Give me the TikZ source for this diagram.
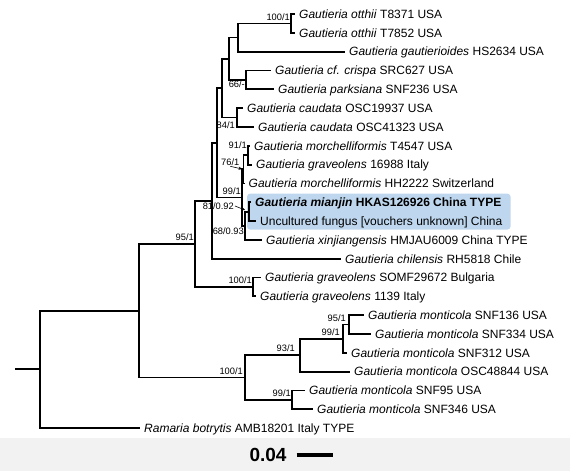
\documentclass[tikz,border=0pt]{standalone}
\usepackage{fontspec}
\setmainfont{Liberation Sans}
\usetikzlibrary{positioning,arrows.meta,fit,backgrounds}
\definecolor{treeBlue}{RGB}{190,215,238}
\definecolor{barGrey}{RGB}{242,242,242}

\begin{document}
\begin{tikzpicture}[
    x=1pt, y=-1pt,
    branch/.style={line width=1.8pt},
    tip label/.style={anchor=west, inner xsep=4pt, inner ysep=0pt, text height=8.6pt, text depth=0pt, font=\fontsize{12}{14}\selectfont},
    boot label/.style={font=\fontsize{9.3}{10}\selectfont, inner sep=1pt},
    tag arrow/.style={-{Stealth[length=4pt,width=3pt]}, line width=0.6pt},
    clade box/.style={rectangle, rounded corners=3pt, fill=treeBlue, inner sep=4pt}
]
  \useasboundingbox (0,0) rectangle (570,471);
  \fill[barGrey] (0,438) rectangle (570,471);

  % branch points
  \coordinate (stub) at (15,369.3);
  \coordinate (nRoot) at (40,369.3);
  \coordinate (nIn) at (139,310.6);
  \coordinate (n95) at (195,243.8);
  \coordinate (nUpD) at (212,200.75);
  \coordinate (nUpC) at (217,142.8);
  \coordinate (nUpB) at (222,88.1);
  \coordinate (nUpA) at (229,58.7);
  \coordinate (nOttG) at (238,37.5);
  \coordinate (nOtt) at (291,23.4);
  \coordinate (nCri) at (246,79.9);
  \coordinate (nCau) at (237,117.5);
  \coordinate (n99) at (242,197.5);
  \coordinate (n76) at (243.5,169.3);
  \coordinate (n91) at (248,155.15);
  \coordinate (n68) at (245,225.7);
  \coordinate (n81) at (249,211.6);
  \coordinate (nGra) at (253,286.9);
  \coordinate (m100) at (245,377.45);
  \coordinate (m93) at (300,355.1);
  \coordinate (m99) at (343,338.65);
  \coordinate (m95) at (349,324.5);
  \coordinate (m99b) at (292,399.8);

  % tips
  \node[tip label] (ott1) at (295,14.0) {\textit{Gautieria otthii} T8371 USA};
  \node[tip label] (ott2) at (295,32.8) {\textit{Gautieria otthii} T7852 USA};
  \node[tip label] (gaut) at (345,51.6) {\textit{Gautieria gautierioides} HS2634 USA};
  \node[tip label] (cris) at (271,70.5) {\textit{Gautieria cf. crispa} SRC627 USA};
  \node[tip label] (park) at (274,89.3) {\textit{Gautieria parksiana} SNF236 USA};
  \node[tip label] (cau1) at (243,108.1) {\textit{Gautieria caudata} OSC19937 USA};
  \node[tip label] (cau2) at (254,126.9) {\textit{Gautieria caudata} OSC41323 USA};
  \node[tip label] (mor1) at (250,145.7) {\textit{Gautieria morchelliformis} T4547 USA};
  \node[tip label] (gra1) at (252,164.6) {\textit{Gautieria graveolens} 16988 Italy};
  \node[tip label] (mor2) at (244.5,183.4) {\textit{Gautieria morchelliformis} HH2222 Switzerland};
  \node[tip label] (mian) at (251,202.2) {\textbf{\textit{Gautieria mianjin} HKAS126926 China TYPE}};
  \node[tip label] (uncu) at (256,221.0) {Uncultured fungus [vouchers unknown] China};
  \node[tip label] (xinj) at (262,239.8) {\textit{Gautieria xinjiangensis} HMJAU6009 China TYPE};
  \node[tip label] (chil) at (341,258.7) {\textit{Gautieria chilensis} RH5818 Chile};
  \node[tip label] (gra2) at (261,277.5) {\textit{Gautieria graveolens} SOMF29672 Bulgaria};
  \node[tip label] (gra3) at (256,296.3) {\textit{Gautieria graveolens} 1139 Italy};
  \node[tip label] (mon1) at (364,315.1) {\textit{Gautieria monticola} SNF136 USA};
  \node[tip label] (mon2) at (371,333.9) {\textit{Gautieria monticola} SNF334 USA};
  \node[tip label] (mon3) at (347,352.8) {\textit{Gautieria monticola} SNF312 USA};
  \node[tip label] (mon4) at (350,371.6) {\textit{Gautieria monticola} OSC48844 USA};
  \node[tip label] (mon5) at (305,390.4) {\textit{Gautieria monticola} SNF95 USA};
  \node[tip label] (mon6) at (313,409.2) {\textit{Gautieria monticola} SNF346 USA};
  \node[tip label] (rama) at (140,428.0) {\textit{Ramaria botrytis} AMB18201 Italy TYPE};

  \begin{scope}[on background layer]
    \node[clade box, fit=(mian)(uncu)] (hilite) {};
  \end{scope}

  % branches
  \draw[branch] (stub) -- (nRoot);
  \draw[branch] (nRoot) |- (nIn) (nRoot) |- (rama.west);
  \draw[branch] (nIn) |- (n95) (nIn) |- (m100);
  \draw[branch] (n95) |- (nUpD) (n95) |- (nGra);
  \draw[branch] (nGra) |- (gra2.west) (nGra) |- (gra3.west);
  \draw[branch] (nUpD) |- (nUpC) (nUpD) |- (chil.west);
  \draw[branch] (nUpC) |- (nUpB) (nUpC) |- (n99);
  \draw[branch] (nUpB) |- (nUpA) (nUpB) |- (nCau);
  \draw[branch] (nUpA) |- (nOttG) (nUpA) |- (nCri);
  \draw[branch] (nOttG) |- (nOtt) (nOttG) |- (gaut.west);
  \draw[branch] (nOtt) |- (ott1.west) (nOtt) |- (ott2.west);
  \draw[branch] (nCri) |- (cris.west) (nCri) |- (park.west);
  \draw[branch] (nCau) |- (cau1.west) (nCau) |- (cau2.west);
  \draw[branch] (n99) |- (n76) (n99) |- (n68);
  \draw[branch] (n76) |- (n91) (n76) |- (mor2.west);
  \draw[branch] (n91) |- (mor1.west) (n91) |- (gra1.west);
  \draw[branch] (n68) |- (n81) (n68) |- (xinj.west);
  \draw[branch] (n81) |- (mian.west) (n81) |- (uncu.west);
  \draw[branch] (m100) |- (m93) (m100) |- (m99b);
  \draw[branch] (m93) |- (m99) (m93) |- (mon4.west);
  \draw[branch] (m99) |- (m95) (m99) |- (mon3.west);
  \draw[branch] (m95) |- (mon1.west) (m95) |- (mon2.west);
  \draw[branch] (m99b) |- (mon5.west) (m99b) |- (mon6.west);

  % support values
  \node[boot label, above left=2pt and 0pt of nOtt] (sOtt) {100/1};
  \node[boot label, below left=0pt and 0pt of nCri] (sCri) {66/-};
  \node[boot label, below left=3pt and 1pt of nCau] (sCau) {84/1};
  \node[boot label, above left=5pt and 0pt of n91] (s91) {91/1};
  \node[boot label, above left=3pt and 3pt of n76] (s76) {76/1};
  \node[boot label, above left=2pt and 0pt of n99] (s99) {99/1};
  \node[boot label, above left=1pt and 14pt of n81] (s81) {81/0.92};
  \node[boot label, below left=1pt and 0pt of n68] (s68) {68/0.93};
  \node[boot label, above left=2pt and 0pt of n95] (s95) {95/1};
  \node[boot label, above left=2pt and 0pt of nGra] (sGra) {100/1};
  \node[boot label, above left=2pt and 1pt of m100] (sm100) {100/1};
  \node[boot label, above left=2pt and 4pt of m93] (sm93) {93/1};
  \node[boot label, above left=2pt and 2pt of m99] (sm99) {99/1};
  \node[boot label, above left=2pt and 2pt of m95] (sm95) {95/1};
  \node[boot label, above left=2pt and 0pt of m99b] (sm99b) {99/1};

  \draw[tag arrow, shorten >=1pt] (s76.south) -- (n76);
  \draw[tag arrow, shorten >=4pt] (s81.east) -- (n81);

  % scale bar
  \node[font=\bfseries\fontsize{19}{20}\selectfont, inner sep=0pt] (sclab) at (268,455) {0.04};
  \coordinate[right=10pt of sclab] (barL);
  \coordinate[right=36pt of barL] (barR);
  \draw[line width=4pt] (barL) -- (barR);
\end{tikzpicture}
\end{document}
